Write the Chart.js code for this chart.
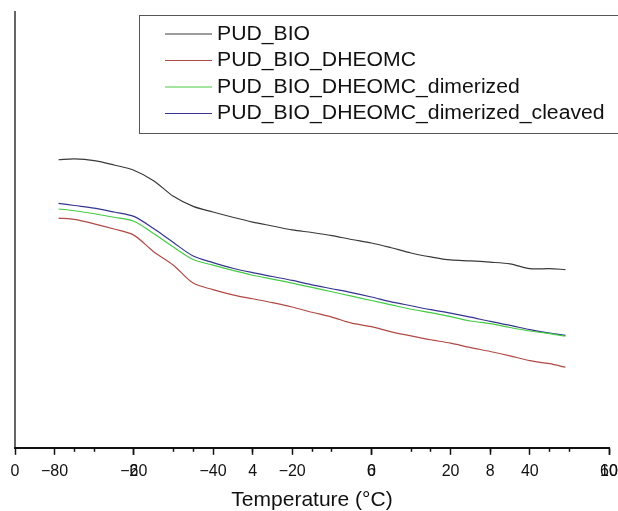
<!DOCTYPE html>
<html>
<head>
<meta charset="utf-8">
<script src="https://cdn.jsdelivr.net/npm/chart.js@4.4.1/dist/chart.umd.min.js"></script>
<style>
  html, body { margin: 0; padding: 0; background: #fff; }
  #wrap { width: 618px; height: 511px; }
</style>
</head>
<body>
<div id="wrap"><canvas id="dmaChart"></canvas></div>
<script>
// temperature (°C) of each reading
const temps = [-79, -75, -70, -65, -60, -55, -50, -45, -40, -35, -30, -25, -20, -15, -10, -5, 0, 5, 10, 15, 20, 25, 30, 35, 40, 45, 49];

// signal of each sample (arbitrary units, no y labels in the figure)
const pudBio = [66.1, 66.3, 65.9, 64.9, 63.7, 61.3, 57.7, 55.4, 54.1, 52.9, 51.8, 50.9, 50.0, 49.4, 48.7, 47.8, 47.0, 45.9, 44.7, 43.8, 43.1, 42.9, 42.6, 42.2, 41.1, 41.1, 40.9];
const pudBioDheomc = [52.7, 52.4, 51.4, 50.2, 48.8, 45.0, 41.9, 37.8, 36.3, 35.1, 34.2, 33.3, 32.3, 31.1, 30.0, 28.6, 27.8, 26.6, 25.7, 24.8, 24.0, 23.0, 22.1, 21.1, 20.0, 19.3, 18.5];
const pudBioDimerized = [54.8, 54.4, 53.7, 52.9, 52.0, 49.2, 46.1, 43.2, 41.9, 40.7, 39.6, 38.7, 37.8, 36.8, 35.8, 34.8, 33.8, 32.8, 31.8, 31.0, 30.1, 29.1, 28.5, 27.6, 26.8, 26.2, 25.6];
const pudBioCleaved = [56.1, 55.6, 55.0, 54.1, 53.1, 50.3, 47.1, 44.0, 42.5, 41.2, 40.2, 39.3, 38.4, 37.4, 36.5, 35.6, 34.6, 33.5, 32.6, 31.7, 30.9, 30.0, 29.0, 28.1, 27.1, 26.3, 25.8];

const seriesNames = ['PUD_BIO', 'PUD_BIO_DHEOMC', 'PUD_BIO_DHEOMC_dimerized', 'PUD_BIO_DHEOMC_dimerized_cleaved'];

// tick labels: temperature axis and the second (0-10) axis printed over it
const tempTicks = [-80, -60, -40, -20, 0, 20, 40, 60];
const tempMinorTicks = [-70, -50, -30, -10, 10, 30, 50];
const secTicks = [0, 2, 4, 6, 8, 10];
const secMinorTicks = [1, 3, 5, 7, 9];

const toPoints = vals => vals.map((v, i) => ({ x: temps[i], y: v }));
const setTicks = list => scale => { scale.ticks = list.map(v => ({ value: v })); };
// end labels may hang over the plot edges without shrinking it
const noSidePad = scale => { scale.paddingLeft = 0; scale.paddingRight = 0; };
const flat = scale => { scale.height = 0; noSidePad(scale); };
const fmtTemp = v => (v < 0 ? '\u2212' + Math.abs(v) : String(v));

const tickFont = { family: "'Liberation Sans', Arial, sans-serif", size: 16 };

// overlay axes take no room; give the labelled one its draw area back after layout
const overlayFix = {
    id: 'overlayFix',
    afterLayout(chart) {
        const s = chart.scales.x2;
        s.bottom = chart.height;
        s.height = chart.height - s.top;
    }
};

// legend box drawn inside the plot, top right
const boxLegend = {
    id: 'boxLegend',
    afterDraw(chart) {
        const ctx = chart.ctx;
        ctx.save();
        ctx.strokeStyle = '#555';
        ctx.lineWidth = 1;
        ctx.strokeRect(139.5, 15.5, 500, 118);
        ctx.font = "20px 'Liberation Sans', Arial, sans-serif";
        ctx.fillStyle = '#111';
        ctx.textBaseline = 'middle';
        chart.data.datasets.forEach((ds, i) => {
            const y = 34 + i * 26.5;
            ctx.strokeStyle = ds.borderColor;
            ctx.lineWidth = 1.2;
            ctx.beginPath();
            ctx.moveTo(165, y);
            ctx.lineTo(212, y);
            ctx.stroke();
            ctx.save();
            ctx.translate(217, y);
            ctx.scale(1.06, 1);
            ctx.fillText(ds.label, 0, 0);
            ctx.restore();
        });
        ctx.restore();
    }
};

const colors = ['#3a3a3a', '#b04a45', '#45cc45', '#35358f'];
const values = [pudBio, pudBioDheomc, pudBioDimerized, pudBioCleaved];

const ctx = document.getElementById('dmaChart').getContext('2d');
new Chart(ctx, {
    type: 'line',
    data: {
        datasets: seriesNames.map((name, i) => ({
            label: name,
            data: toPoints(values[i]),
            xAxisID: 'x',
            yAxisID: 'y',
            borderColor: colors[i],
            borderWidth: 1.2,
            pointRadius: 0,
            tension: 0.3,
            fill: false
        }))
    },
    options: {
        responsive: true,
        maintainAspectRatio: false,
        animation: false,
        layout: { padding: { left: 15, right: 9, top: 12, bottom: 0 } },
        plugins: {
            legend: { display: false },
            tooltip: { enabled: false }
        },
        scales: {
            y: {
                type: 'linear',
                min: 0,
                max: 100,
                ticks: { display: false },
                grid: { display: false, drawTicks: false },
                border: { display: true, color: '#666', width: 2 }
            },
            // minor ticks of the second axis
            x2m: {
                type: 'linear', position: 'bottom', weight: -4,
                min: 0, max: 10,
                afterBuildTicks: setTicks(secMinorTicks),
                afterFit: flat,
                ticks: { display: false },
                grid: { drawOnChartArea: false, tickLength: 4, tickColor: '#111', tickWidth: 1.5 },
                border: { display: false }
            },
            // minor ticks of the temperature axis
            xm: {
                type: 'linear', position: 'bottom', weight: -3,
                min: -90, max: 60,
                afterBuildTicks: setTicks(tempMinorTicks),
                afterFit: flat,
                ticks: { display: false },
                grid: { drawOnChartArea: false, tickLength: 4, tickColor: '#111', tickWidth: 1.5 },
                border: { display: false }
            },
            // second axis, 0 to 10, printed over the temperature axis
            x2: {
                type: 'linear', position: 'bottom', weight: -2,
                min: 0, max: 10,
                afterBuildTicks: setTicks(secTicks),
                afterFit: flat,
                ticks: { autoSkip: false, maxRotation: 0, padding: 7, color: '#111', font: tickFont },
                grid: { drawOnChartArea: false, tickLength: 7, tickColor: '#111', tickWidth: 1.5 },
                border: { display: false }
            },
            x: {
                type: 'linear', position: 'bottom',
                min: -90, max: 60,
                afterBuildTicks: setTicks(tempTicks),
                afterFit: noSidePad,
                ticks: { autoSkip: false, maxRotation: 0, padding: 7, color: '#111', font: tickFont,
                         callback: v => fmtTemp(v) },
                grid: { drawOnChartArea: false, tickLength: 7, tickColor: '#111', tickWidth: 1.5 },
                border: { display: true, color: '#111', width: 2 },
                title: {
                    display: true,
                    text: 'Temperature (°C)',
                    color: '#111',
                    font: { family: "'Liberation Sans', Arial, sans-serif", size: 21, lineHeight: 1 },
                    padding: { top: 2, bottom: 0 }
                }
            }
        }
    },
    plugins: [overlayFix, boxLegend]
});
</script>
</body>
</html>
